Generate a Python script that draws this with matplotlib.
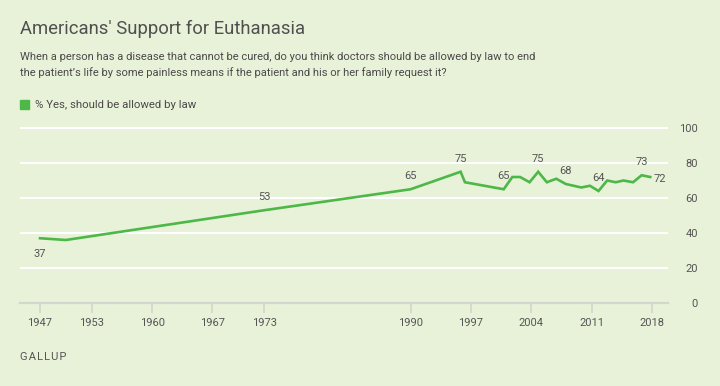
import matplotlib.pyplot as plt
from matplotlib.patches import Rectangle

# poll dates (fractional years) and % saying yes
years = [1947.0, 1950.0, 1973.0, 1990.0, 1995.8, 1996.3, 2000.8, 2001.8,
         2002.7, 2003.8, 2004.8, 2005.8, 2006.9, 2008.0, 2009.8, 2010.8,
         2011.8, 2012.8, 2013.8, 2014.7, 2015.8, 2016.8, 2017.8]
pct_yes = [37, 36, 53, 65, 75, 69, 65, 72, 72, 69, 75, 69, 71, 68, 66, 67,
           64, 70, 69, 70, 69, 73, 72]

# which points carry a value label, and where the label sits
label_points = [0, 2, 3, 4, 6, 10, 13, 16, 21, 22]
label_side = ["below", "above", "above", "above", "above", "above", "above",
              "above", "above", "right"]

x_ticks = [1947, 1953, 1960, 1967, 1973, 1990, 1997, 2004, 2011, 2018]
y_ticks = [0, 20, 40, 60, 80, 100]

title = "Americans' Support for Euthanasia"
subtitle = ["When a person has a disease that cannot be cured, do you think doctors should be allowed by law to end",
            "the patient\u2019s life by some painless means if the patient and his or her family request it?"]
series_name = "% Yes, should be allowed by law"
source = "GALLUP"

BG = "#e8f2d9"
GREEN = "#4db848"
GRAY = "#555555"

plt.rcParams['font.family'] = ['Roboto', 'DejaVu Sans']

W, H = 720, 386
fig = plt.figure(figsize=(W / 100, H / 100), dpi=100, facecolor=BG)
ax = fig.add_axes([20 / W, 83 / H, 648 / W, 178.5 / H])
ax.set_facecolor(BG)

ax.plot(years, pct_yes, color=GREEN, lw=1.9, zorder=3, solid_joinstyle="miter")

ax.set_xlim(1944.68, 2019.86)
ax.set_ylim(0, 102)

# grid and axis styling
ax.set_axisbelow(True)
ax.set_yticks(y_ticks)
ax.set_xticks(x_ticks)
ax.grid(axis="y", color="white", lw=1.5)
for s in ["top", "left", "right"]:
    ax.spines[s].set_visible(False)
ax.spines["bottom"].set_color("#d2d6cc")
ax.spines["bottom"].set_linewidth(1.6)

ax.tick_params(axis="x", length=7, width=1.2, color="#d2d6cc", pad=4,
               labelsize=8, labelcolor=GRAY)
ax.tick_params(axis="y", left=False, labelleft=False, right=False, labelright=True,
               length=0, pad=21.6, labelsize=8, labelcolor=GRAY)
for lab in ax.get_yticklabels():
    lab.set_horizontalalignment("right")

# value labels
for i, side in zip(label_points, label_side):
    if side == "above":
        off, ha, va = (0, 9.4), "center", "center"
    elif side == "below":
        off, ha, va = (0, -11.5), "center", "center"
    else:
        off, ha, va = (2.5, -1.5), "left", "center"
    ax.annotate(str(pct_yes[i]), (years[i], pct_yes[i]), xytext=off,
                textcoords="offset points", ha=ha, va=va, fontsize=8, color=GRAY)

# title block
fig.text(20 / W, 1 - 33.5 / H, title, fontsize=13.3, color="#505050", va="baseline")
for k, line in enumerate(subtitle):
    fig.text(20 / W, 1 - (60 + 16 * k) / H, line, fontsize=8.05, color="#4a4a4a",
             va="baseline")

# legend
fig.patches.append(Rectangle((20 / W, 1 - 109 / H), 9 / W, 9 / H,
                             transform=fig.transFigure, color=GREEN))
fig.text(35 / W, 1 - 108.5 / H, series_name, fontsize=8.2, color="#4a4a4a", va="baseline")

# source, letter-spaced
fig.text(20 / W, 1 - 360 / H, "\u200a".join(source), fontsize=8, color=GRAY,
         va="baseline")

fig.savefig("out.png", dpi=100, facecolor=BG)
